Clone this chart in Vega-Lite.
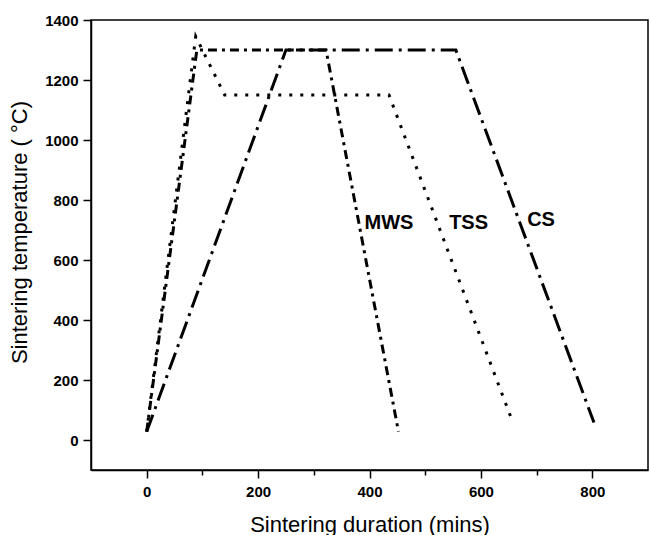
{
  "$schema": "https://vega.github.io/schema/vega-lite/v6.json",
  "autosize": "none",
  "width": 557,
  "height": 450,
  "padding": {"left": 91, "top": 20, "right": 2, "bottom": 65},
  "background": "white",
  "config": {
    "font": "Liberation Sans",
    "view": {"stroke": "black", "strokeWidth": 1.5}
  },
  "datasets": {
    "curves": [
      {"series": "MWS", "order": 1, "t": 0, "temp": 28},
      {"series": "MWS", "order": 2, "t": 90, "temp": 1300},
      {"series": "MWS", "order": 3, "t": 322, "temp": 1300},
      {"series": "MWS", "order": 4, "t": 452, "temp": 28},
      {"series": "TSS", "order": 1, "t": 0, "temp": 28},
      {"series": "TSS", "order": 2, "t": 88, "temp": 1345},
      {"series": "TSS", "order": 3, "t": 140, "temp": 1150},
      {"series": "TSS", "order": 4, "t": 435, "temp": 1150},
      {"series": "TSS", "order": 5, "t": 657, "temp": 60},
      {"series": "CS", "order": 1, "t": 0, "temp": 28},
      {"series": "CS", "order": 2, "t": 250, "temp": 1300},
      {"series": "CS", "order": 3, "t": 555, "temp": 1300},
      {"series": "CS", "order": 4, "t": 803, "temp": 58}
    ],
    "labels": [
      {"label": "MWS", "t": 391, "temp": 724},
      {"label": "TSS", "t": 543, "temp": 724},
      {"label": "CS", "t": 683, "temp": 733}
    ]
  },
  "layer": [
    {
      "data": {"name": "curves"},
      "mark": {"type": "line", "color": "black", "strokeWidth": 3, "strokeCap": "butt"},
      "encoding": {
        "x": {
          "field": "t", "type": "quantitative",
          "scale": {"domain": [-100, 900], "nice": false, "zero": false},
          "axis": {
            "title": "Sintering duration (mins)",
            "values": [0, 100, 200, 300, 400, 500, 600, 700, 800],
            "labelExpr": "datum.value % 200 === 0 ? datum.label : ''",
            "format": "d",
            "grid": false,
            "domainColor": "black", "domainWidth": 1.5,
            "tickColor": "black", "tickWidth": 1.5,
            "tickSize": {"condition": {"test": "datum.value % 200 === 0", "value": 8}, "value": 5},
            "labelFont": "Liberation Sans", "labelFontWeight": "bold", "labelFontSize": 15, "labelColor": "black",
            "labelPadding": 6,
            "titleFont": "Liberation Sans", "titleFontWeight": "normal", "titleFontSize": 22, "titleColor": "black",
            "titleY": 61, "titleBaseline": "alphabetic"
          }
        },
        "y": {
          "field": "temp", "type": "quantitative",
          "scale": {"domain": [-100, 1400], "nice": false, "zero": false},
          "axis": {
            "title": "Sintering temperature ( °C)",
            "values": [0, 100, 200, 300, 400, 500, 600, 700, 800, 900, 1000, 1100, 1200, 1300, 1400],
            "labelExpr": "datum.value % 200 === 0 ? datum.label : ''",
            "format": "d",
            "grid": false,
            "domainColor": "black", "domainWidth": 1.5,
            "tickColor": "black", "tickWidth": 1.5,
            "tickSize": {"condition": {"test": "datum.value % 200 === 0", "value": 8}, "value": 5},
            "labelFont": "Liberation Sans", "labelFontWeight": "bold", "labelFontSize": 15, "labelColor": "black",
            "labelPadding": 5,
            "titleFont": "Liberation Sans", "titleFontWeight": "normal", "titleFontSize": 22, "titleColor": "black",
            "titleX": -65, "titleY": 212, "titleBaseline": "alphabetic", "titleAlign": "center", "titleAngle": -90
          }
        },
        "detail": {"field": "series"},
        "order": {"field": "order", "type": "quantitative"},
        "strokeDash": {
          "field": "series", "type": "nominal",
          "scale": {"domain": ["MWS", "TSS", "CS"], "range": [[9, 5, 3, 5], [3, 8], [18, 6, 3, 6]]},
          "legend": null
        }
      }
    },
    {
      "data": {"name": "labels"},
      "mark": {"type": "text", "align": "left", "baseline": "middle", "font": "Liberation Sans", "fontWeight": "bold", "fontSize": 20, "color": "black"},
      "encoding": {
        "x": {"field": "t", "type": "quantitative"},
        "y": {"field": "temp", "type": "quantitative"},
        "text": {"field": "label"}
      }
    }
  ]
}
